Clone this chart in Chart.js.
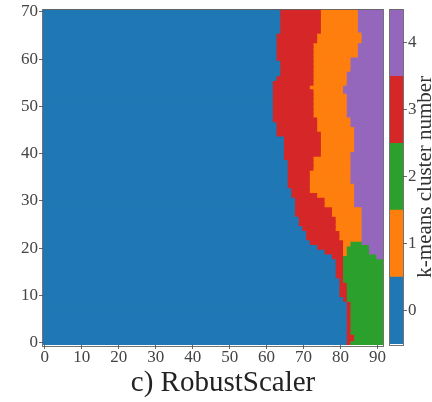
<!DOCTYPE html>
<html><head><meta charset="utf-8">
<script src="https://cdn.jsdelivr.net/npm/chart.js@4.4.1/dist/chart.umd.min.js"></script>
<style>
html,body{margin:0;padding:0;background:#fff;overflow:hidden;width:432px;height:402px;}
#wrap{position:relative;width:432px;height:402px;overflow:hidden;background:#fff;}
#main{position:absolute;left:0;top:0;}
#cbar{position:absolute;left:383px;top:0;}
</style></head><body>
<div id="wrap">
<canvas id="main" width="446" height="402"></canvas>
<canvas id="cbar" width="49" height="402"></canvas>
</div>
<script>
// ---- data (row index = y value 0..70, columns 0..91) ----
const nCols = 92;
const rows = Array.from({length: 71}, (_, i) => i);
const xTicks = [0, 10, 20, 30, 40, 50, 60, 70, 80, 90];
const yTicks = [0, 10, 20, 30, 40, 50, 60, 70];
const cbTicks = [0, 1, 2, 3, 4];
const clusterColors = ['#1f77b4', '#ff7f0e', '#2ca02c', '#d62728', '#9467bd'];
const titleText = 'c) RobustScaler';
const cbLabel = 'k-means cluster number';

// first column of each cluster band per row (null = band absent); blue (0) always starts at column 0
const redStart = [82,82,82,82,82,82,82,82,82,81, 80,80,80,80,79,79,79,79,78,76,
                  74,72,71,71,70,69,69,68,68,68, 68,67,67,66,66,66,66,66,66,65,
                  65,65,65,65,63,63,63,62,62,62, 62,62,62,62,62,62,63,64,64,64,
                  63,63,63,63,63,63,64,64,64,64, 64];
const orangeStart = [null,null,null,null,null,null,null,null,null,null,
                     null,null,null,null,null,null,null,null,null,81,
                     81,81,80,80,79,79,79,78,78,76, 76,74,72,72,72,72,72,73,73,73,
                     75,75,75,75,75,74,74,74,73,73, 73,73,73,73,72,73,73,73,73,73,
                     73,73,73,73,74,74,75,75,75,75, 75];
const greenStart = [83,84,83,83,83,83,83,83,83,82, 82,82,82,81,81,81,81,81,81,82,
                    82,83,null,null,null,null,null,null,null,null,
                    null,null,null,null,null,null,null,null,null,null,
                    null,null,null,null,null,null,null,null,null,null,
                    null,null,null,null,null,null,null,null,null,null,
                    null,null,null,null,null,null,null,null,null,null, null];
const purpleStart = [null,null,null,null,null,null,null,null,null,null,
                     null,null,null,null,null,null,null,null,90,88,
                     88,86,86,86,86,86,86,86,86,84, 84,84,84,84,83,83,83,83,83,83,
                     83,84,84,84,84,84,83,83,82,82, 82,82,82,81,81,82,82,82,83,83,
                     83,85,85,85,86,86,85,85,85,85, 85];

// ---- build floating bar segments per cluster ----
const segs = [[], [], [], [], []];
rows.forEach((r, i) => {
  const starts = [[0, 0], [redStart[i], 3]];
  if (orangeStart[i] != null) starts.push([orangeStart[i], 1]);
  if (greenStart[i] != null) starts.push([greenStart[i], 2]);
  if (purpleStart[i] != null) starts.push([purpleStart[i], 4]);
  starts.forEach(([s, c], k) => {
    const e = k + 1 < starts.length ? starts[k + 1][0] : nCols;
    segs[c].push({y: r, x: [s - 0.5, e - 0.5]});
  });
});

const FONT = "'Liberation Serif', 'Times New Roman', serif";
const tickFont = {family: FONT, size: 17, lineHeight: 1};
const tickColor = '#444';

const frame = {
  id: 'frame',
  afterDatasetsDraw(chart) {
    const {ctx, chartArea: a} = chart;
    ctx.save();
    ctx.strokeStyle = 'rgba(80,80,80,0.8)';
    ctx.lineWidth = 1;
    ctx.strokeRect(Math.round(a.left) - 0.5, Math.round(a.top) - 0.5,
                   Math.round(a.right - a.left) + 1, Math.round(a.bottom - a.top) + 1);
    ctx.restore();
  }
};

new Chart(document.getElementById('main'), {
  type: 'bar',
  data: {
    datasets: [0, 3, 1, 2, 4].map(c => ({
      label: String(c),
      data: segs[c],
      backgroundColor: clusterColors[c],
      borderWidth: 0,
      inflateAmount: 0.7,
      grouped: false,
      barPercentage: 1,
      categoryPercentage: 1
    }))
  },
  options: {
    indexAxis: 'y',
    responsive: false,
    animation: false,
    events: [],
    layout: {padding: {left: 0, right: 0, top: 7, bottom: 1.6}},
    plugins: {
      legend: {display: false},
      tooltip: {enabled: false},
      title: {display: true, position: 'bottom', text: titleText,
              font: {family: FONT, size: 29, weight: 'normal', lineHeight: 1.2},
              color: '#222', padding: 0}
    },
    scales: {
      x: {
        type: 'linear', min: -0.5, max: 91.5, offset: false,
        afterBuildTicks: s => { s.ticks = xTicks.map(v => ({value: v})); },
        afterFit: s => { s.height = 20.6; },
        grid: {display: true, drawOnChartArea: false, drawTicks: true, tickLength: 4,
               color: '#444', lineWidth: 0.8, offset: false},
        border: {display: false},
        ticks: {font: tickFont, color: tickColor, padding: 0, maxRotation: 0, autoSkip: false}
      },
      y: {
        type: 'linear', min: -0.5, max: 70.5, offset: false,
        afterBuildTicks: s => { s.ticks = yTicks.map(v => ({value: v})); },
        afterFit: s => { s.width = 43; },
        grid: {display: true, drawOnChartArea: false, drawTicks: true, tickLength: 4,
               color: '#444', lineWidth: 0.8, offset: false},
        border: {display: false},
        ticks: {font: tickFont, color: tickColor, padding: 1, autoSkip: false}
      },
      yPad: {
        type: 'linear', position: 'right', display: true, min: 0, max: 1,
        grid: {display: false}, border: {display: false}, ticks: {display: false},
        afterFit: s => { s.width = 63; }
      }
    }
  },
  plugins: [frame]
});

const cbTitle = {
  id: 'cbTitle',
  afterDraw(chart) {
    const {ctx, chartArea: a} = chart;
    ctx.save();
    ctx.translate(42, (a.top + a.bottom) / 2);
    ctx.rotate(-Math.PI / 2);
    ctx.textAlign = 'center';
    ctx.textBaseline = 'middle';
    ctx.font = "21px 'Liberation Serif', serif";
    ctx.fillStyle = '#333';
    ctx.fillText(cbLabel, 0, 0);
    ctx.restore();
  }
};

new Chart(document.getElementById('cbar'), {
  type: 'bar',
  data: {
    labels: [''],
    datasets: cbTicks.map(v => ({
      data: [[v - 0.5, v + 0.5]],
      backgroundColor: clusterColors[v],
      borderWidth: 0,
      grouped: false,
      barPercentage: 1,
      categoryPercentage: 1
    }))
  },
  options: {
    responsive: false,
    animation: false,
    events: [],
    layout: {padding: {left: 7, right: 0, top: 7, bottom: 58}},
    plugins: {legend: {display: false}, tooltip: {enabled: false}},
    scales: {
      x: {display: false, offset: true},
      y: {
        type: 'linear', position: 'right', min: -0.5, max: 4.5,
        afterBuildTicks: s => { s.ticks = cbTicks.map(v => ({value: v})); },
        afterFit: s => { s.width = 29; },
        grid: {display: true, drawOnChartArea: false, drawTicks: true, tickLength: 4,
               color: '#444', lineWidth: 0.8},
        border: {display: false},
        ticks: {font: tickFont, color: tickColor, padding: 1}
      }
    }
  },
  plugins: [frame, cbTitle]
});
</script>
</body></html>
